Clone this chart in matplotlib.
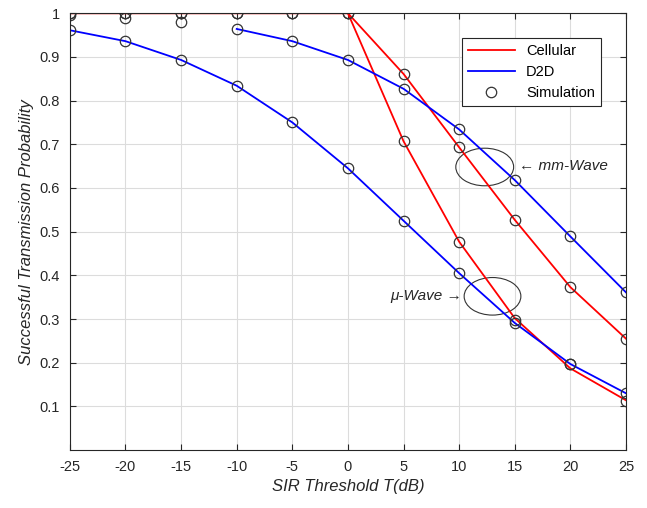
import matplotlib.pyplot as plt
from matplotlib.patches import Ellipse

plt.rcParams["font.family"] = ["Liberation Sans", "DejaVu Sans"]
plt.rcParams["axes.unicode_minus"] = False

# SIR threshold (dB)
T = [-25, -20, -15, -10, -5, 0, 5, 10, 15, 20, 25]

# analytical curves
cell_mm = [1.0, 1.0, 1.0, 1.0, 1.0, 1.0, 0.861, 0.693, 0.527, 0.373, 0.255]
cell_mu = [1.0, 1.0, 1.0, 1.0, 1.0, 1.0, 0.707, 0.477, 0.302, 0.187, 0.114]
d2d_mm_T = [-10, -5, 0, 5, 10, 15, 20, 25]
d2d_mm = [0.964, 0.936, 0.893, 0.827, 0.734, 0.618, 0.489, 0.361]
d2d_mu = [0.961, 0.936, 0.893, 0.834, 0.750, 0.645, 0.525, 0.405, 0.291, 0.197, 0.130]

# simulation points
sim_d2d_mm_T = [-25, -20, -15]
sim_d2d_mm = [0.995, 0.99, 0.98]
sim_cell_mu = [1.0, 1.0, 1.0, 1.0, 1.0, 1.0, 0.707, 0.477, 0.298, 0.198, 0.113]

fig = plt.figure(figsize=(6.47, 5.08), dpi=100)
ax = fig.add_axes([0.108, 0.114, 0.8595, 0.86])

ax.plot(T, cell_mm, color="#ff0000", lw=1.3, label="Cellular")
ax.plot(T, cell_mu, color="#ff0000", lw=1.3)
ax.plot(d2d_mm_T, d2d_mm, color="#0000ff", lw=1.3, label="D2D")
ax.plot(T, d2d_mu, color="#0000ff", lw=1.3)

mk = dict(ls="none", marker="o", ms=7.5, mfc="none", mec="#333333", mew=0.9)
ax.plot(T, cell_mm, label="Simulation", **mk)
ax.plot(T, sim_cell_mu, **mk)
ax.plot(d2d_mm_T, d2d_mm, **mk)
ax.plot(sim_d2d_mm_T, sim_d2d_mm, **mk)
ax.plot(T, d2d_mu, **mk)

ax.add_patch(Ellipse((12.3, 0.648), 5.2, 0.086, fill=False, ec="#333333", lw=0.8))
ax.add_patch(Ellipse((13.0, 0.352), 5.1, 0.086, fill=False, ec="#333333", lw=0.8))
ax.text(15.4, 0.65, "\u2190 mm-Wave", fontsize=11, style="italic", color="#262626",
        va="center", ha="left")
ax.text(10.3, 0.352, "\u03bc-Wave \u2192", fontsize=11, style="italic", color="#262626",
        va="center", ha="right")

ax.set_xlim(-25, 25)
ax.set_ylim(0, 1)
ax.set_xticks(T)
ax.set_yticks([0.1, 0.2, 0.3, 0.4, 0.5, 0.6, 0.7, 0.8, 0.9, 1.0])
ax.set_yticklabels(["0.1", "0.2", "0.3", "0.4", "0.5", "0.6", "0.7", "0.8", "0.9", "1"])
ax.tick_params(labelsize=10.5, colors="#262626", direction="in", top=True, right=True,
               length=4, pad=7)
ax.grid(True, color="#dcdcdc", lw=0.8)
ax.set_axisbelow(True)
for s in ax.spines.values():
    s.set_color("#262626")
    s.set_linewidth(0.8)

ax.set_xlabel("SIR Threshold T(dB)", fontsize=12, style="italic", color="#262626")
ax.set_ylabel("Successful Transmission Probability", fontsize=12, style="italic",
              color="#262626")

leg = ax.legend(loc="upper right", bbox_to_anchor=(0.968, 0.96), fontsize=10.5,
                fancybox=False, edgecolor="#262626", framealpha=1, handlelength=3.2)
leg.get_frame().set_linewidth(0.8)

fig.savefig("out.png", dpi=100)
